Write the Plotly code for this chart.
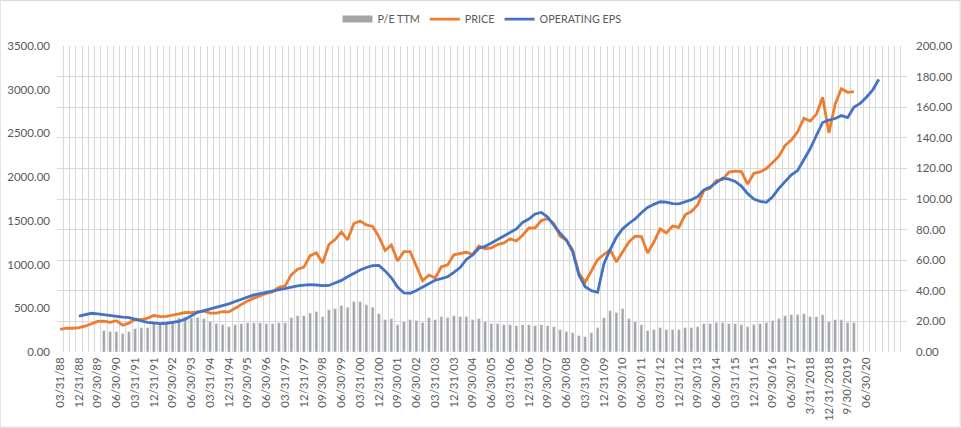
# Quarterly price, operating EPS and trailing P/E chart
import plotly.graph_objects as go

# 136 quarterly slots, 03/31/88 .. 12/31/21
n_quarters = 136

# quarter-end index price (left axis), 03/31/88 .. 12/31/19
price = [
    258.89, 273.50, 271.91, 277.72,
    294.87, 317.98, 349.15, 353.40,
    339.94, 358.02, 306.05, 330.22,
    375.22, 371.16, 387.86, 417.09,
    403.69, 408.14, 417.80, 435.71,
    451.67, 450.53, 458.93, 466.45,
    445.77, 444.27, 462.69, 459.27,
    500.71, 544.75, 584.41, 615.93,
    645.50, 670.63, 687.33, 740.74,
    757.12, 885.14, 947.28, 970.43,
    1101.75, 1133.84, 1017.01, 1229.23,
    1286.37, 1372.71, 1282.71, 1469.25,
    1498.58, 1454.60, 1436.51, 1320.28,
    1160.33, 1224.42, 1040.94, 1148.08,
    1147.39, 989.82, 815.28, 879.82,
    848.18, 974.50, 995.97, 1111.92,
    1126.21, 1140.84, 1114.58, 1211.92,
    1180.59, 1191.33, 1228.81, 1248.29,
    1294.83, 1270.20, 1335.85, 1418.30,
    1420.86, 1503.35, 1526.75, 1468.36,
    1322.70, 1280.00, 1166.36, 903.25,
    797.87, 919.32, 1057.08, 1115.10,
    1169.43, 1030.71, 1141.20, 1257.64,
    1325.83, 1320.64, 1131.42, 1257.60,
    1408.47, 1362.16, 1440.67, 1426.19,
    1569.19, 1606.28, 1681.55, 1848.36,
    1872.34, 1960.23, 1972.29, 2058.90,
    2067.89, 2063.11, 1920.03, 2043.94,
    2059.74, 2098.86, 2168.27, 2238.83,
    2362.72, 2423.41, 2519.36, 2673.61,
    2640.87, 2718.37, 2913.98, 2506.85,
    2834.40, 3010.00, 2970.00, 2977.00,
]

# operating EPS, trailing 12 months (right axis), 12/31/88 .. 12/31/20
eps_start = 3
operating_eps = [
    23.4, 24.6, 25.3, 24.9, 24.3, 23.8, 23.2, 22.8, 22.4,
    21.2, 20.4, 19.4, 18.8, 18.6, 18.8, 19.2, 20.0, 21.4, 23.5,
    25.9, 27.0, 28.0, 29.0, 30.2, 31.5, 33.0, 34.6, 36.2, 37.3,
    38.1, 39.0, 40.0, 40.8, 41.6, 42.4, 43.2, 43.7, 44.0, 43.8,
    43.4, 43.5, 45.3, 46.8, 49.2, 51.5, 53.6, 55.2, 56.5, 56.6,
    53.0, 48.5, 42.5, 38.6, 38.4, 40.2, 42.6, 45.0, 46.9, 48.0,
    49.2, 52.0, 55.2, 60.5, 63.4, 67.8, 69.0, 71.2, 73.4, 75.6,
    78.2, 80.4, 84.7, 86.9, 90.2, 91.2, 88.2, 82.5, 77.6, 73.2,
    65.6, 50.3, 42.7, 40.1, 39.0, 57.5, 67.0, 75.0, 80.5, 84.0,
    87.0, 91.0, 94.5, 96.5, 98.2, 98.0, 97.0, 96.8, 98.0, 99.5,
    101.5, 106.0, 107.8, 111.0, 113.6, 113.0, 111.5, 108.5, 103.5, 100.0,
    98.5, 97.8, 101.5, 107.0, 111.3, 115.8, 118.6, 125.5, 132.8, 141.5,
    150.0, 151.5, 152.6, 154.5, 153.2, 160.0, 162.5, 166.5, 171.2, 178.2,
]

# P/E TTM bars (right axis), 12/31/89 .. 12/31/19
pe_start = 7
pe_ttm = [
    13.9, 13.3, 13.3, 12.0, 13.3, 15.2, 15.9, 15.9, 18.5, 19.0,
    19.4, 20.0, 22.2, 22.9, 22.2, 22.6, 21.8, 20.0, 18.5, 17.8,
    16.5, 17.8, 18.5, 19.0, 19.0, 19.0, 18.5, 18.5, 19.0, 19.0,
    22.4, 23.7, 23.7, 25.5, 26.4, 23.1, 27.6, 28.3, 30.3, 29.2,
    32.9, 32.9, 30.9, 29.2, 25.0, 21.1, 21.8, 17.8, 19.8, 21.1,
    20.5, 19.2, 22.4, 21.1, 23.1, 22.4, 23.7, 23.1, 23.1, 21.1,
    21.8, 19.8, 18.5, 18.5, 17.8, 17.8, 17.2, 17.8, 17.8, 17.2,
    17.8, 17.2, 16.5, 14.6, 13.3, 12.6, 10.7, 10.0, 12.6, 15.9,
    22.4, 27.0, 25.7, 28.3, 21.8, 19.8, 17.8, 13.9, 14.6, 15.9,
    14.6, 14.6, 14.6, 15.9, 15.9, 16.5, 18.5, 18.5, 19.2, 19.2,
    18.5, 18.5, 17.8, 16.5, 17.8, 18.5, 19.2, 20.5, 21.8, 23.7,
    24.4, 24.4, 25.0, 23.1, 23.1, 24.4, 19.8, 21.1, 21.1, 19.2,
    19.2,
]

# axis labels shown every third quarter
tick_step = 3
tick_labels = [
    "03/31/88", "12/31/88", "09/30/89", "06/30/90", "03/31/91", "12/31/91",
    "09/30/92", "06/30/93", "03/31/94", "12/31/94", "09/30/95", "06/30/96",
    "03/31/97", "12/31/97", "09/30/98", "06/30/99", "03/31/00", "12/31/00",
    "09/30/01", "06/30/02", "03/31/03", "12/31/03", "09/30/04", "06/30/05",
    "03/31/06", "12/31/06", "09/30/07", "06/30/08", "03/31/09", "12/31/09",
    "09/30/10", "06/30/11", "03/31/12", "12/31/12", "09/30/13", "06/30/14",
    "03/31/15", "12/31/15", "09/30/16", "06/30/17", "3/31/2018", "12/31/2018",
    "9/30/2019", "06/30/20",
]

grey_text = "#595959"
grid_col = "#D9D9D9"
bar_col = "#A5A5A5"
font_family = "Lato, 'Open Sans', sans-serif"
fs = 11.5

fig = go.Figure()
fig.add_trace(go.Bar(
    x=list(range(pe_start, pe_start + len(pe_ttm))), y=pe_ttm,
    name="P/E TTM", marker_color=bar_col, yaxis="y", showlegend=False,
))
# legend entry for the bars, drawn as a wide flat swatch like Excel
fig.add_trace(go.Scatter(
    x=[None], y=[None], name="P/E TTM", mode="lines",
    line=dict(color=bar_col, width=7), yaxis="y",
))
fig.add_trace(go.Scatter(
    x=list(range(len(price))), y=price, name="PRICE", mode="lines",
    line=dict(color="#ED7D31", width=2.8), yaxis="y2",
))
fig.add_trace(go.Scatter(
    x=list(range(eps_start, eps_start + len(operating_eps))), y=operating_eps,
    name="OPERATING EPS", mode="lines",
    line=dict(color="#4472C4", width=2.8), yaxis="y3",
))

# plot area in pixels
W, H = 961, 428
left, right, top, bottom = 57.3, 53.7, 46.0, 75.7
pw = W - left - right
ph = H - top - bottom

fig.update_layout(
    width=W, height=H,
    margin=dict(l=left, r=right, t=top, b=bottom, pad=0, autoexpand=False),
    paper_bgcolor="white", plot_bgcolor="white",
    font=dict(family=font_family, size=fs, color=grey_text),
    bargap=0.55,
    showlegend=True,
    legend=dict(
        orientation="h", x=0.5, xanchor="center",
        y=(ph + top - 19) / ph, yanchor="middle",
        font=dict(size=10.8, color=grey_text),
        itemwidth=30, tracegroupgap=0,
    ),
    xaxis=dict(
        range=[-0.5, n_quarters - 0.5], automargin=False,
        tickmode="array",
        tickvals=list(range(0, len(tick_labels) * tick_step, tick_step)),
        ticktext=tick_labels,
        tickangle=-90, ticklabelstandoff=2,
        showgrid=False, zeroline=False, showline=False, ticks="",
        minor=dict(tickmode="linear", tick0=-0.5, dtick=1,
                   showgrid=True, gridcolor=grid_col, gridwidth=1),
        tickfont=dict(size=fs, color=grey_text),
    ),
    yaxis=dict(
        side="right", range=[0, 200], dtick=20, tickformat=".2f",
        showgrid=True, gridcolor=grid_col, gridwidth=1, automargin=False,
        zeroline=False, ticks="", ticklabelstandoff=8,
        tickfont=dict(size=fs, color=grey_text),
    ),
    yaxis2=dict(
        overlaying="y", side="left", range=[0, 3500], dtick=500,
        tickformat=".2f", showgrid=False, zeroline=False, ticks="",
        automargin=False, ticklabelstandoff=6,
        tickfont=dict(size=fs, color=grey_text),
    ),
    yaxis3=dict(
        overlaying="y", side="right", range=[0, 200], visible=False,
        automargin=False,
    ),
)

# thin chart-area border round the whole picture
fig.add_shape(
    type="rect", xref="paper", yref="paper",
    x0=(0.5 - left) / pw, x1=(W - 0.5 - left) / pw,
    y0=-(bottom - 0.5) / ph, y1=(ph + top - 0.5) / ph,
    line=dict(color=grid_col, width=1), fillcolor="rgba(0,0,0,0)",
    layer="below",
)

# drop the browser's default page margin so the chart sits at the window corner
fig.write_html(
    "out.html",
    config={"displayModeBar": False},
    post_script="document.body.style.margin='0';",
)
